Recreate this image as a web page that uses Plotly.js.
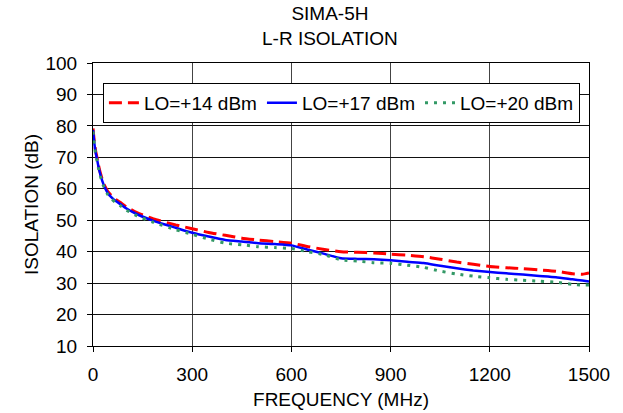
<!DOCTYPE html>
<html>
<head>
<meta charset="utf-8">
<script src="https://cdn.plot.ly/plotly-3.0.1.min.js"></script>
<style>html,body{margin:0;padding:0;background:#fff;}#chart{width:623px;height:413px;}</style>
</head>
<body>
<div id="chart"></div>
<script>
var freq = [0, 4, 8, 12, 16, 21, 28, 36, 45, 56, 70, 82, 100, 133, 183, 250, 300, 350, 400, 450, 500, 550, 600, 650, 700, 750, 800, 850, 900, 950, 1000, 1050, 1100, 1150, 1200, 1250, 1300, 1350, 1400, 1450, 1480, 1500];
var lo14 = [79.2, 75.0, 72.0, 70.0, 67.8, 65.5, 63.0, 60.8, 59.1, 57.8, 56.5, 55.7, 54.3, 52.4, 50.4, 48.5, 47.3, 46.1, 45.2, 44.3, 43.7, 43.2, 42.7, 41.6, 40.7, 40.0, 39.8, 39.6, 39.2, 38.9, 38.4, 37.6, 36.7, 36.0, 35.3, 34.9, 34.6, 34.2, 33.8, 33.0, 32.8, 33.2];
var lo17 = [78.7, 74.5, 71.5, 69.5, 67.3, 65.0, 62.5, 60.3, 58.6, 57.3, 56.0, 55.2, 53.8, 51.9, 49.8, 47.6, 46.0, 44.8, 43.7, 43.2, 42.7, 42.4, 42.0, 40.6, 39.3, 37.9, 37.7, 37.6, 37.3, 36.8, 36.4, 35.5, 34.7, 34.0, 33.5, 33.1, 32.7, 32.3, 31.9, 31.2, 30.8, 30.5];
var lo20 = [78.2, 74.0, 71.0, 69.0, 66.8, 64.5, 62.0, 59.8, 58.1, 56.8, 55.5, 54.7, 53.3, 51.4, 49.3, 47.0, 45.5, 44.0, 42.7, 42.2, 41.6, 41.3, 41.0, 40.0, 39.0, 37.4, 37.0, 36.5, 36.3, 35.7, 35.0, 33.8, 32.9, 32.2, 31.7, 31.2, 30.9, 30.6, 30.3, 29.6, 29.4, 29.4];
var seriesNames = ['LO=+14 dBm', 'LO=+17 dBm', 'LO=+20 dBm'];
var xTicks = [0, 300, 600, 900, 1200, 1500];
var yTicks = [10, 20, 30, 40, 50, 60, 70, 80, 90, 100];

var font = 'Liberation Sans, Arial, sans-serif';
var fs = 19;
var traces = [
  {x: freq, y: lo14, name: seriesNames[0], mode: 'lines', line: {color: '#FF0000', width: 3, dash: '13px,6px', shape: 'spline', smoothing: 0.5}},
  {x: freq, y: lo17, name: seriesNames[1], mode: 'lines', line: {color: '#0000FF', width: 2.5, shape: 'spline', smoothing: 0.5}},
  {x: freq, y: lo20, name: seriesNames[2], mode: 'lines', line: {color: '#339966', width: 3, dash: '3px,6px', shape: 'spline', smoothing: 0.5}}
];
var layout = {
  width: 623, height: 413,
  margin: {l: 93, r: 34, t: 63, b: 67},
  paper_bgcolor: '#fff', plot_bgcolor: '#fff',
  font: {family: font, size: fs, color: '#000'},
  showlegend: true,
  legend: {orientation: 'h', x: 0.02, y: 0.93, xanchor: 'left', yanchor: 'top',
    bgcolor: '#fff', bordercolor: '#000', borderwidth: 1,
    font: {family: font, size: fs, color: '#000'}, tracegroupgap: 0, itemwidth: 30},
  annotations: [
    {text: 'SIMA-5H<br>L-R ISOLATION', xref: 'paper', yref: 'paper', x: 0.477, y: 1.0, yshift: 62,
     xanchor: 'center', yanchor: 'top', showarrow: false, font: {family: font, size: fs, color: '#000'}}
  ],
  xaxis: {
    range: [0, 1500], tickvals: xTicks, ticktext: xTicks.map(String),
    showgrid: true, gridcolor: '#444', gridwidth: 1, zeroline: false,
    showline: true, linecolor: '#000', linewidth: 1, mirror: true,
    ticks: 'outside', ticklen: 5, tickcolor: '#000', ticklabelstandoff: 6,
    tickfont: {family: font, size: fs, color: '#000'},
    title: {text: 'FREQUENCY (MHz)', font: {family: font, size: fs, color: '#000'}, standoff: 8}
  },
  yaxis: {
    range: [10, 100], tickvals: yTicks, ticktext: yTicks.map(String),
    showgrid: true, gridcolor: '#111', gridwidth: 1, zeroline: false,
    showline: true, linecolor: '#000', linewidth: 1, mirror: true,
    ticks: 'outside', ticklen: 5, tickcolor: '#000', ticklabelstandoff: 6,
    tickfont: {family: font, size: fs, color: '#000'},
    title: {text: 'ISOLATION (dB)', font: {family: font, size: fs, color: '#000'}, standoff: 1}
  }
};
Plotly.newPlot('chart', traces, layout, {displayModeBar: false, staticPlot: true});
</script>
</body>
</html>
